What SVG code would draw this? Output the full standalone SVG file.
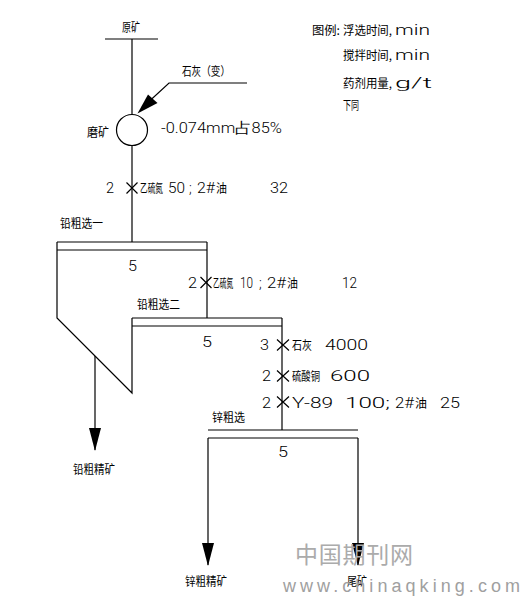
<svg xmlns="http://www.w3.org/2000/svg" width="522" height="613" viewBox="0 0 522 613">
<defs>
<style>
.ln{stroke:#000;stroke-width:1.2;fill:none}
.ah{fill:#000;stroke:none}
.cn{font-family:"Noto Sans CJK SC","Liberation Sans",sans-serif;font-size:12px;fill:#000}
.lt{font-family:Roboto,"Liberation Sans","DejaVu Sans",sans-serif;font-weight:300;font-size:14px;fill:#000}
.num{font-family:Roboto,"Liberation Sans","DejaVu Sans",sans-serif;font-weight:300;font-size:15px;fill:#000}
.wm{font-family:"Noto Sans CJK SC","Liberation Sans",sans-serif;font-size:23px;fill:#ababab}
.wu{font-family:"Liberation Sans","DejaVu Sans",sans-serif;font-size:18px;fill:#a0a0a0}
</style>
</defs>
<rect width="522" height="613" fill="#fff"/>

<g id="feed">
<line class="ln" x1="105" y1="39" x2="158" y2="39"/>
<text class="cn" x="122" y="32" textLength="18" lengthAdjust="spacingAndGlyphs" font-size="13">原矿</text>
</g>

<g id="lime">
<text class="cn" x="182" y="76" textLength="48" lengthAdjust="spacingAndGlyphs">石灰（变）</text>
</g>

<g id="grinding">
<circle class="ln" cx="132" cy="130" r="15.5"/>
<text class="cn" x="87" y="137" textLength="22" lengthAdjust="spacingAndGlyphs">磨矿</text>
<text class="num" x="161" y="133" textLength="121" lengthAdjust="spacingAndGlyphs">-0.074mm占85%</text>
</g>

<g id="legend">
<text class="cn" x="312" y="35" textLength="28" lengthAdjust="spacingAndGlyphs">图例:</text>
<text class="cn" x="343" y="35" textLength="49" lengthAdjust="spacingAndGlyphs">浮选时间,</text>
<text class="lt" x="395" y="35" textLength="35" lengthAdjust="spacingAndGlyphs" font-size="17">min</text>
<text class="cn" x="343" y="60" textLength="49" lengthAdjust="spacingAndGlyphs">搅拌时间,</text>
<text class="lt" x="395" y="60" textLength="35" lengthAdjust="spacingAndGlyphs" font-size="17">min</text>
<text class="cn" x="343" y="88" textLength="49" lengthAdjust="spacingAndGlyphs">药剂用量,</text>
<text class="lt" x="395" y="88" textLength="37" lengthAdjust="spacingAndGlyphs" font-size="19">g/t</text>
<text class="cn" x="343" y="110" textLength="16" lengthAdjust="spacingAndGlyphs">下同</text>
</g>

<g id="reagents-pb1">
<text class="lt" x="106" y="193" textLength="8" lengthAdjust="spacingAndGlyphs">2</text>
<text class="cn" transform="translate(140,193) scale(0.64,1)">乙硫氮</text>
<text class="lt" x="168" y="193" textLength="17" lengthAdjust="spacingAndGlyphs">50</text>
<text class="lt" x="189" y="193">;</text>
<text class="lt" x="197" y="193" textLength="18" lengthAdjust="spacingAndGlyphs">2#</text>
<text class="cn" x="216" y="193" textLength="11" lengthAdjust="spacingAndGlyphs">油</text>
<text class="lt" x="270" y="193" textLength="18" lengthAdjust="spacingAndGlyphs">32</text>
</g>

<g id="lead-rougher-1">
<line class="ln" x1="57" y1="242" x2="207" y2="242"/>
<line class="ln" x1="57" y1="250" x2="207" y2="250"/>
<polyline class="ln" points="57,242 57,318 132,393 132,318"/>
<text class="cn" x="60" y="228" textLength="43" lengthAdjust="spacingAndGlyphs">铅粗选一</text>
<text class="num" x="128" y="271" textLength="9" lengthAdjust="spacingAndGlyphs">5</text>
</g>

<g id="reagents-pb2">
<text class="lt" x="188" y="288" textLength="9" lengthAdjust="spacingAndGlyphs">2</text>
<text class="cn" transform="translate(213,288) scale(0.56,1)">乙硫氮</text>
<text class="lt" x="240" y="288" textLength="13" lengthAdjust="spacingAndGlyphs">10</text>
<text class="lt" x="259" y="288">;</text>
<text class="lt" x="267" y="288" textLength="19" lengthAdjust="spacingAndGlyphs">2#</text>
<text class="cn" x="287" y="288" textLength="11" lengthAdjust="spacingAndGlyphs">油</text>
<text class="lt" x="342" y="288" textLength="15" lengthAdjust="spacingAndGlyphs">12</text>
</g>

<g id="lead-rougher-2">
<line class="ln" x1="132" y1="318" x2="282" y2="318"/>
<line class="ln" x1="132" y1="326" x2="282" y2="326"/>
<text class="cn" x="137" y="309" textLength="43" lengthAdjust="spacingAndGlyphs">铅粗选二</text>
<text class="num" x="202" y="347" textLength="10" lengthAdjust="spacingAndGlyphs">5</text>
</g>

<g id="reagents-zn">
<text class="lt" x="260" y="350" textLength="9" lengthAdjust="spacingAndGlyphs">3</text>
<text class="cn" x="292" y="350" textLength="20" lengthAdjust="spacingAndGlyphs">石灰</text>
<text class="lt" x="325" y="350" textLength="43" lengthAdjust="spacingAndGlyphs">4000</text>
<text class="lt" x="262" y="381" textLength="9" lengthAdjust="spacingAndGlyphs">2</text>
<text class="cn" x="292" y="381" textLength="28" lengthAdjust="spacingAndGlyphs">硫酸铜</text>
<text class="lt" x="330" y="381" textLength="40" lengthAdjust="spacingAndGlyphs">600</text>
<text class="lt" x="262" y="408" textLength="9" lengthAdjust="spacingAndGlyphs">2</text>
<text class="lt" x="292" y="408" textLength="41" lengthAdjust="spacingAndGlyphs">Y-89</text>
<text class="lt" x="345" y="408" textLength="45" lengthAdjust="spacingAndGlyphs">100;</text>
<text class="lt" x="395" y="408" textLength="19" lengthAdjust="spacingAndGlyphs">2#</text>
<text class="cn" x="415" y="408" textLength="12" lengthAdjust="spacingAndGlyphs">油</text>
<text class="lt" x="440" y="408" textLength="20" lengthAdjust="spacingAndGlyphs">25</text>
</g>

<g id="zinc-rougher">
<line class="ln" x1="208" y1="430" x2="358" y2="430"/>
<line class="ln" x1="208" y1="438" x2="358" y2="438"/>
<text class="cn" x="212" y="422" textLength="33" lengthAdjust="spacingAndGlyphs">锌粗选</text>
<text class="num" x="278" y="457" textLength="10" lengthAdjust="spacingAndGlyphs">5</text>
</g>

<g id="lead-concentrate">
<text class="cn" x="73" y="474" textLength="42" lengthAdjust="spacingAndGlyphs">铅粗精矿</text>
</g>
<g id="zinc-concentrate">
<text class="cn" x="185" y="586" textLength="42" lengthAdjust="spacingAndGlyphs">锌粗精矿</text>
</g>
<g id="tailings">
<text class="cn" x="347" y="586" textLength="20" lengthAdjust="spacingAndGlyphs">尾矿</text>
</g>

<g id="connectors">
<line class="ln" x1="132" y1="39" x2="132" y2="114.5"/>
<line class="ln" x1="132" y1="145.5" x2="132" y2="242"/>
<polyline class="ln" points="247,83 169,83 143,107"/>
<polygon class="ah" points="137.5,113.5 148,94.5 157.5,103"/>
<line class="ln" x1="207" y1="242" x2="207" y2="318"/>
<line class="ln" x1="282" y1="318" x2="282" y2="430"/>
<line class="ln" x1="95" y1="356" x2="95" y2="450"/>
<polygon class="ah" points="89,428 101,428 95,451"/>
<line class="ln" x1="208" y1="438" x2="208" y2="565"/>
<polygon class="ah" points="202,543 214,543 208,566"/>
<line class="ln" x1="358" y1="438" x2="358" y2="565"/>
<polygon class="ah" points="352,543 364,543 358,566"/>
<g class="ln">
<path d="M126.5,182.5 L137.5,193.5 M137.5,182.5 L126.5,193.5"/>
<path d="M200.5,277 L211.5,288 M211.5,277 L200.5,288"/>
<path d="M277,339.5 L289,350.5 M289,339.5 L277,350.5"/>
<path d="M277,370.5 L289,381.5 M289,370.5 L277,381.5"/>
<path d="M277,396.5 L289,407.5 M289,396.5 L277,407.5"/>
</g>
</g>

<g id="watermark">
<text class="wm" x="295" y="563" textLength="118" lengthAdjust="spacing">中国期刊网</text>
<text class="wu" x="283" y="592" textLength="237" lengthAdjust="spacing">www.chinaqking.com</text>
</g>
</svg>
